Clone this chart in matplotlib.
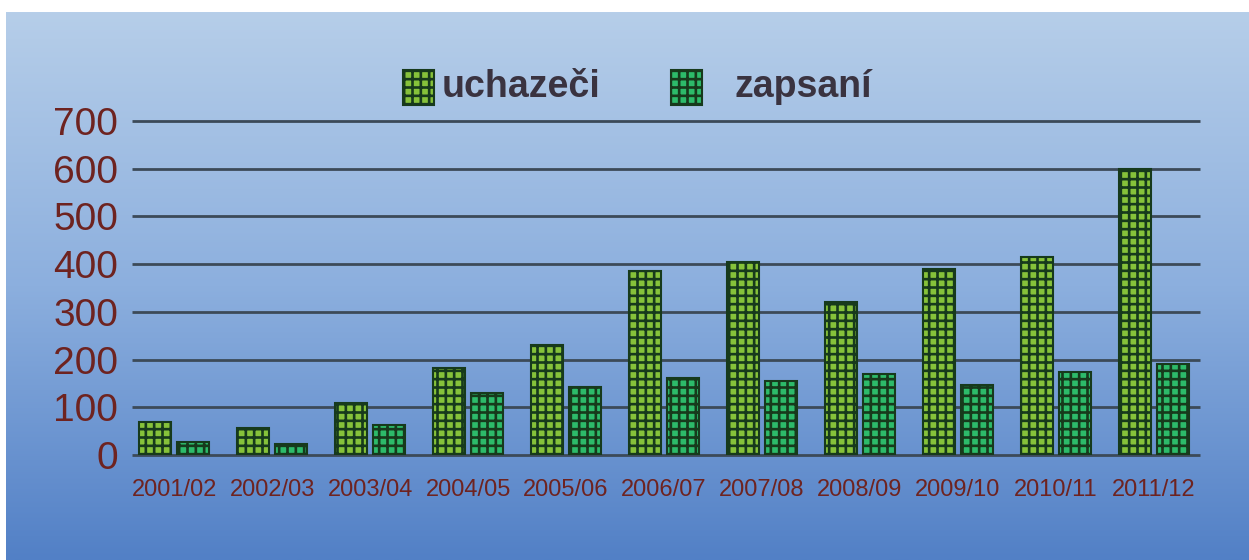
import numpy as np
import matplotlib
matplotlib.use("Agg")
import matplotlib.pyplot as plt
from matplotlib.patches import Rectangle

# --- data ---
years = ["2001/02", "2002/03", "2003/04", "2004/05", "2005/06", "2006/07",
         "2007/08", "2008/09", "2009/10", "2010/11", "2011/12"]
uchazeci = [70, 57, 110, 182, 230, 386, 405, 320, 390, 414, 600]
zapsani = [27, 23, 63, 130, 142, 161, 156, 170, 147, 174, 190]
yticks = [0, 100, 200, 300, 400, 500, 600, 700]

col_u = "#86c23a"
col_z = "#2dbb6a"
edge = "#173a1c"
lab_col = "#6e2320"
plt.rcParams["hatch.linewidth"] = 1.9
plt.rcParams["font.family"] = "Liberation Sans"

fig = plt.figure(figsize=(12.49, 5.6), dpi=100)

# --- background gradient ---
bg = fig.add_axes([6 / 1249, 0, 1 - 6 / 1249, 548 / 560])
bg.axis("off")
top = np.array([182, 206, 233]) / 255
mid = np.array([140, 175, 222]) / 255
bot = np.array([82, 128, 198]) / 255
t = np.linspace(0, 1, 300)[:, None]
grad = np.where(t < 0.5, top + (mid - top) * (t / 0.5), mid + (bot - mid) * ((t - 0.5) / 0.5))
bg.imshow(grad[:, None, :], aspect="auto", extent=[0, 1, 0, 1])
bg.set_xlim(0, 1)
bg.set_ylim(0, 1)

# --- main axes ---
ax = fig.add_axes([132 / 1249, 105 / 560, 1068 / 1249, 334 / 560])
ax.patch.set_alpha(0)
for s in ax.spines.values():
    s.set_visible(False)

x = np.arange(len(years))
w = 0.33
off = 0.195
ax.hlines(yticks, -0.43, 10.47, colors="#3c4a58", linewidth=2, clip_on=False, zorder=1)
ax.bar(x - off, uchazeci, w, color=col_u, edgecolor=edge, hatch="++", linewidth=1.5, zorder=3)
ax.bar(x + off, zapsani, w, color=col_z, edgecolor=edge, hatch="++", linewidth=1.5, zorder=3)

ax.set_xlim(-0.43, 10.47)
ax.set_ylim(0, 700)
ax.set_yticks(yticks)
ax.set_yticklabels([str(v) for v in yticks], fontsize=28, color=lab_col)
ax.set_xticks(x)
ax.set_xticklabels(years, fontsize=17, color=lab_col)
ax.tick_params(axis="y", length=0, pad=10)
ax.tick_params(axis="x", length=0, pad=17)

# --- legend ---
for x0, c in [(403, col_u), (671, col_z)]:
    fig.patches.append(Rectangle((x0 / 1249, (560 - 105) / 560), 31 / 1249, 35 / 560,
                                 transform=fig.transFigure, facecolor=c, edgecolor=edge,
                                 hatch="++", linewidth=1.5))
fig.text(442 / 1249, (560 - 87) / 560, "uchazeči", fontsize=27, fontweight="bold",
         color="#3a3340", va="center", ha="left")
fig.text(734 / 1249, (560 - 87) / 560, "zapsaní", fontsize=27, fontweight="bold",
         color="#3a3340", va="center", ha="left")

fig.savefig("out.png", dpi=100, facecolor="white")
